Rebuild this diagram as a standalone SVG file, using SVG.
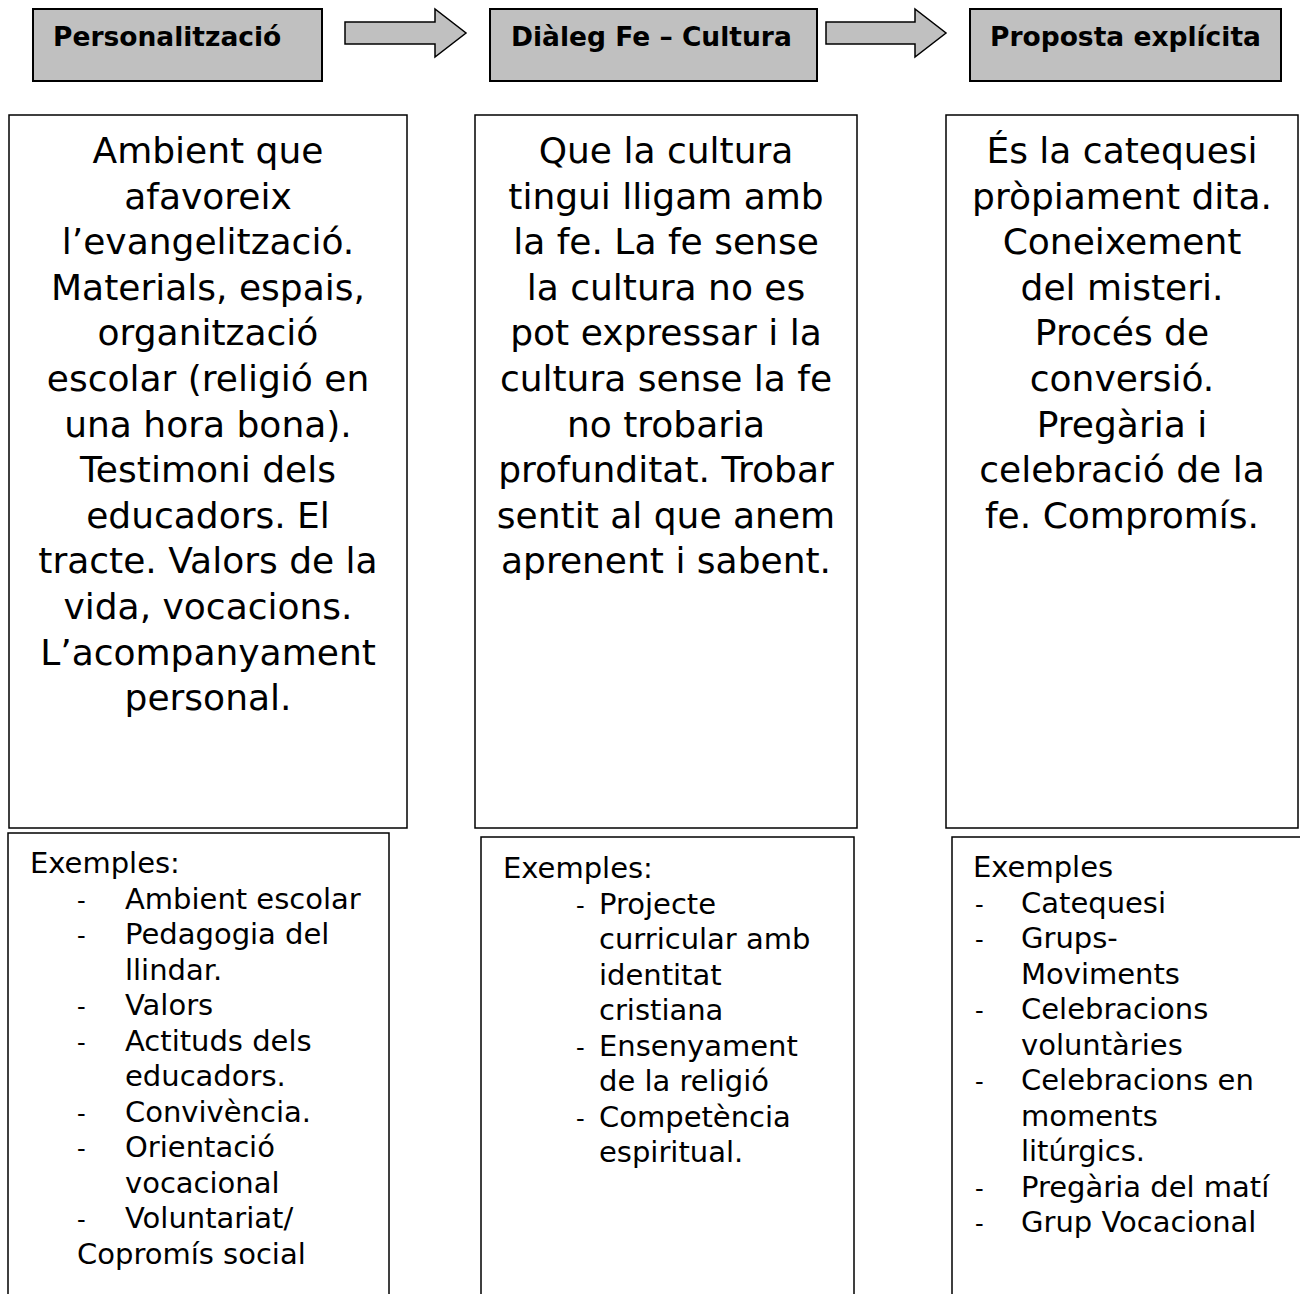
<svg xmlns="http://www.w3.org/2000/svg" width="1300" height="1294" viewBox="0 0 1300 1294">
<style>
.hdr{fill:#c0c0c0;stroke:#000;stroke-width:2}
.arr{fill:#c0c0c0;stroke:#000;stroke-width:1.5}
.box{fill:#fff;stroke:#000;stroke-width:1.5}
.ht{font-family:"DejaVu Sans",Verdana,sans-serif;font-weight:bold;font-size:26.5px;fill:#000}
.mt{font-family:"DejaVu Sans",sans-serif;font-size:36px;fill:#000;text-anchor:middle}
.ex{font-family:"DejaVu Sans",Verdana,sans-serif;font-size:29px;fill:#000}
.d{font-family:"DejaVu Sans",sans-serif;font-size:24px;fill:#000}
</style>
<rect width="1300" height="1294" fill="#fff"/>
<g id="connectors">
<polygon class="arr" points="345,22 435,22 435,9 466,33 435,57 435,44 345,44"/>
<polygon class="arr" points="826,22 915,22 915,9 946,33 915,57 915,44 826,44"/>
</g>
<g id="h1"><rect class="hdr" x="33" y="9" width="289" height="72"/><text class="ht" x="53" y="46">Personalització</text></g>
<g id="h2"><rect class="hdr" x="490" y="9" width="327" height="72"/><text class="ht" x="511" y="46">Diàleg Fe – Cultura</text></g>
<g id="h3"><rect class="hdr" x="970" y="9" width="311" height="72"/><text class="ht" x="990" y="46">Proposta explícita</text></g>
<g id="b1"><rect class="box" x="9" y="115" width="398" height="713"/>
<text class="mt"><tspan x="208" y="163">Ambient que</tspan><tspan x="208" y="208.6">afavoreix</tspan><tspan x="208" y="254.2">l’evangelització.</tspan><tspan x="208" y="299.8">Materials, espais,</tspan><tspan x="208" y="345.4">organització</tspan><tspan x="208" y="391">escolar (religió en</tspan><tspan x="208" y="436.6">una hora bona).</tspan><tspan x="208" y="482.2">Testimoni dels</tspan><tspan x="208" y="527.8">educadors. El</tspan><tspan x="208" y="573.4">tracte. Valors de la</tspan><tspan x="208" y="619">vida, vocacions.</tspan><tspan x="208" y="664.6">L’acompanyament</tspan><tspan x="208" y="710.2">personal.</tspan></text></g>
<g id="b2"><rect class="box" x="475" y="115" width="382" height="713"/>
<text class="mt"><tspan x="666" y="163">Que la cultura</tspan><tspan x="666" y="208.6">tingui lligam amb</tspan><tspan x="666" y="254.2">la fe. La fe sense</tspan><tspan x="666" y="299.8">la cultura no es</tspan><tspan x="666" y="345.4">pot expressar i la</tspan><tspan x="666" y="391">cultura sense la fe</tspan><tspan x="666" y="436.6">no trobaria</tspan><tspan x="666" y="482.2">profunditat. Trobar</tspan><tspan x="666" y="527.8">sentit al que anem</tspan><tspan x="666" y="573.4">aprenent i sabent.</tspan></text></g>
<g id="b3"><rect class="box" x="946" y="115" width="352" height="713"/>
<text class="mt"><tspan x="1122" y="163">És la catequesi</tspan><tspan x="1122" y="208.6">pròpiament dita.</tspan><tspan x="1122" y="254.2">Coneixement</tspan><tspan x="1122" y="299.8">del misteri.</tspan><tspan x="1122" y="345.4">Procés de</tspan><tspan x="1122" y="391">conversió.</tspan><tspan x="1122" y="436.6">Pregària i</tspan><tspan x="1122" y="482.2">celebració de la</tspan><tspan x="1122" y="527.8">fe. Compromís.</tspan></text></g>
<g id="e1"><rect class="box" x="8" y="833" width="381" height="480"/>
<text class="ex"><tspan x="30" y="873">Exemples:</tspan><tspan x="125" y="909">Ambient escolar</tspan><tspan x="125" y="944">Pedagogia del</tspan><tspan x="125" y="980">llindar.</tspan><tspan x="125" y="1015">Valors</tspan><tspan x="125" y="1051">Actituds dels</tspan><tspan x="125" y="1086">educadors.</tspan><tspan x="125" y="1122">Convivència.</tspan><tspan x="125" y="1157">Orientació</tspan><tspan x="125" y="1193">vocacional</tspan><tspan x="125" y="1228">Voluntariat/</tspan><tspan x="77" y="1264">Copromís social</tspan></text>
<text class="d"><tspan x="77" y="909">-</tspan><tspan x="77" y="944">-</tspan><tspan x="77" y="1015">-</tspan><tspan x="77" y="1051">-</tspan><tspan x="77" y="1122">-</tspan><tspan x="77" y="1157">-</tspan><tspan x="77" y="1228">-</tspan></text></g>
<g id="e2"><rect class="box" x="481" y="837" width="373" height="480"/>
<text class="ex"><tspan x="503" y="878">Exemples:</tspan><tspan x="599" y="914">Projecte</tspan><tspan x="599" y="949">curricular amb</tspan><tspan x="599" y="985">identitat</tspan><tspan x="599" y="1020">cristiana</tspan><tspan x="599" y="1056">Ensenyament</tspan><tspan x="599" y="1091">de la religió</tspan><tspan x="599" y="1127">Competència</tspan><tspan x="599" y="1162">espiritual.</tspan></text>
<text class="d"><tspan x="576" y="914">-</tspan><tspan x="576" y="1056">-</tspan><tspan x="576" y="1127">-</tspan></text></g>
<g id="e3"><rect class="box" x="952" y="837" width="380" height="480"/>
<text class="ex"><tspan x="973" y="877">Exemples</tspan><tspan x="1021" y="913">Catequesi</tspan><tspan x="1021" y="948">Grups-</tspan><tspan x="1021" y="984">Moviments</tspan><tspan x="1021" y="1019">Celebracions</tspan><tspan x="1021" y="1055">voluntàries</tspan><tspan x="1021" y="1090">Celebracions en</tspan><tspan x="1021" y="1126">moments</tspan><tspan x="1021" y="1161">litúrgics.</tspan><tspan x="1021" y="1197">Pregària del matí</tspan><tspan x="1021" y="1232">Grup Vocacional</tspan></text>
<text class="d"><tspan x="975" y="913">-</tspan><tspan x="975" y="948">-</tspan><tspan x="975" y="1019">-</tspan><tspan x="975" y="1090">-</tspan><tspan x="975" y="1197">-</tspan><tspan x="975" y="1232">-</tspan></text></g>
</svg>
